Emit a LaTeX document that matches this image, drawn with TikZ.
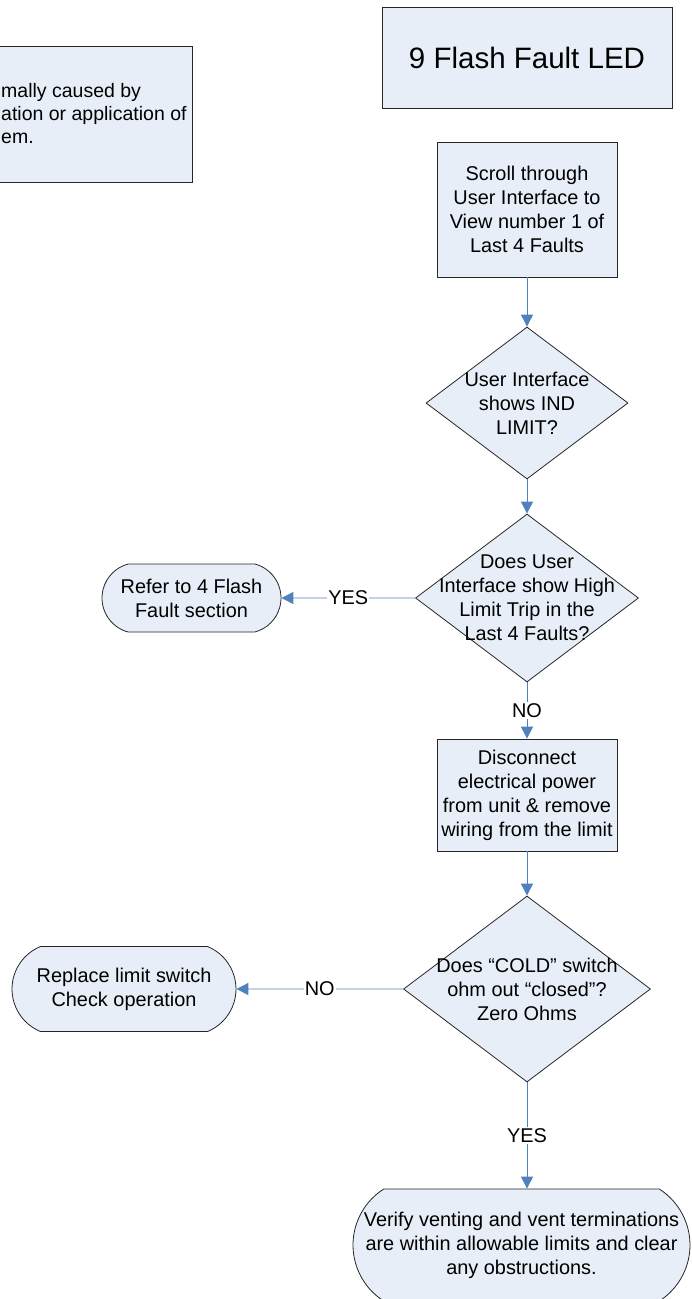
\documentclass[tikz,border=0pt]{standalone}
\usepackage{fontspec}
\setmainfont{Liberation Sans}
\usetikzlibrary{shapes.geometric,shapes.misc,arrows.meta}

\definecolor{boxfill}{RGB}{232,238,247}
\definecolor{flowblue}{RGB}{79,129,189}

\tikzset{
  box/.style={draw=black!85, line width=0.8pt, fill=boxfill},
  process/.style={box, rectangle, inner sep=0pt, align=center},
  decision/.style={box, diamond, inner sep=0pt},
  terminal/.style={box, rounded rectangle, inner sep=0pt},
  txt/.style={align=center, inner sep=0pt},
  flow/.style={->, draw=flowblue, line width=0.9pt},
  yesno/.style={fill=white, inner sep=1pt},
}

\begin{document}
\begin{tikzpicture}[x=1pt,y=-1pt,font=\fontsize{19.9}{24}\selectfont,>={Triangle[length=12pt,width=12pt]}]
    \useasboundingbox (0,0) rectangle (692,1299);

    % note on the left, cut by the page edge
    \node[process, minimum width=300pt, minimum height=136pt] (note) at (42,114) {};
    \node[txt, anchor=west, align=left, font=\fontsize{19.5}{23}\selectfont] (notetext) at (1,114) {mally caused by\\ation or application of\\em.};

    \node[process, minimum width=290pt, minimum height=101pt, font=\fontsize{29.5}{34}\selectfont] (title) at (527,57.5) {9 Flash Fault LED};
    \node[process, minimum width=180pt, minimum height=135pt] (scroll) at (527,209.5) {Scroll through\\User Interface to\\View number 1 of\\Last 4 Faults};

    \node[decision, minimum width=202pt, minimum height=152pt] (ind) at (527,403) {};
    \node[txt] (indtext) at (ind) {User Interface\\shows IND\\LIMIT?};

    \node[decision, minimum width=223pt, minimum height=168pt] (hilim) at (527,598) {};
    \node[txt] (hilimtext) at (hilim) {Does User\\Interface show High\\Limit Trip in the\\Last 4 Faults?};

    \node[terminal, rounded rectangle arc length=150, minimum width=179pt, minimum height=68pt] (refer) at (191.5,598) {};
    \node[txt] (refertext) at (refer) {Refer to 4 Flash\\Fault section};

    \node[process, minimum width=180pt, minimum height=112pt] (disc) at (527,795) {Disconnect\\electrical power\\from unit \& remove\\wiring from the limit};

    \node[decision, minimum width=247pt, minimum height=186pt] (cold) at (527,989) {};
    \node[txt] (coldtext) at (cold) {Does “COLD” switch\\ohm out “closed”?\\Zero Ohms};

    \node[terminal, rounded rectangle arc length=135, minimum width=224pt, minimum height=85pt] (repl) at (124,989) {};
    \node[txt] (repltext) at (repl) {Replace limit switch\\Check operation};

    \node[terminal, rounded rectangle arc length=115, minimum width=337pt, minimum height=112pt] (vent) at (521.5,1245) {};
    \node[txt] (venttext) at (vent) {Verify venting and vent terminations\\are within allowable limits and clear\\any obstructions.};

    \draw[flow] (scroll) -- (ind);
    \draw[flow] (ind) -- (hilim);
    \draw[flow] (hilim) -- node[yesno] (yes1) {YES} (refer);
    \draw[flow] (hilim) -- node[yesno] (no1) {NO} (disc);
    \draw[flow] (disc) -- (cold);
    \draw[flow] (cold) -- node[yesno] (no2) {NO} (repl);
    \draw[flow] (cold.south) -- node[yesno] (yes2) {YES} (cold.south |- vent.north);
\end{tikzpicture}
\end{document}
